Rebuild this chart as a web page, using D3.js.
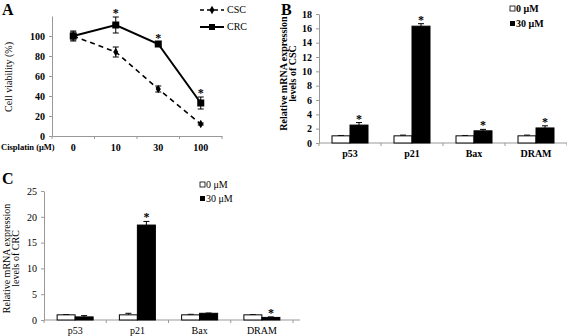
<!DOCTYPE html>
<html>
<head>
<meta charset="utf-8">
<script src="https://cdn.jsdelivr.net/npm/d3@7"></script>
<style>
  body { margin: 0; background: #fff; }
  svg, svg text { font-family: "Liberation Serif", "Times New Roman", serif; }
  .axis path, .axis line { stroke: #999; }
  .axis text { font-family: "Liberation Serif", "Times New Roman", serif; font-weight: bold; font-size: 10px; fill: #000; }
</style>
</head>
<body>
<svg id="fig" width="567" height="336"></svg>
<script>
// ---- data ----
var doses = ["0", "10", "30", "100"];
var crcViability = [100, 111, 92, 33];
var crcErr = [5, 8, 2, 6];
var cscViability = [100, 84, 47, 12];
var cscErr = [4, 5, 3, 1];
var crcStars = [false, true, true, true];

var genes = ["p53", "p21", "Bax", "DRAM"];
var cscCtrl = [1.0, 1.0, 1.0, 1.0];
var cscCtrlErr = [0.05, 0.1, 0.05, 0.1];
var cscTreat = [2.5, 16.3, 1.7, 2.1];
var cscTreatErr = [0.35, 0.35, 0.2, 0.3];
var cscStars = [true, true, true, true];

var crcCtrl = [1.0, 1.0, 1.0, 1.0];
var crcCtrlErr = [0.05, 0.3, 0.1, 0.05];
var crcTreat = [0.6, 18.4, 1.3, 0.5];
var crcTreatErr = [0.25, 0.7, 0.05, 0.1];
var crcGeneStars = [false, true, false, true];

var svg = d3.select("#fig");

// ---------------- Panel A ----------------
var gA = svg.append("g");
gA.append("text").attr("x", 2).attr("y", 15)
    .style("font-size", "16px").style("font-weight", "bold").text("A");

var xA = d3.scaleBand().domain(doses).range([52, 222]);
var yA = d3.scaleLinear().domain([0, 120]).range([136, 16]);

gA.append("g").attr("class", "axis")
    .attr("transform", "translate(52,0)")
    .call(d3.axisLeft(yA).tickValues([0, 20, 40, 60, 80, 100]).tickSize(3).tickPadding(4).tickSizeOuter(0));

var xAxisA = gA.append("g").attr("class", "axis")
    .attr("transform", "translate(0,136)")
    .call(d3.axisBottom(xA).tickSize(0).tickPadding(8).tickSizeOuter(0));
// ticks at band boundaries
xAxisA.selectAll(".bound").data(d3.range(doses.length + 1)).enter()
    .append("line").attr("class", "bound")
    .attr("x1", i => 52 + i * xA.step()).attr("x2", i => 52 + i * xA.step())
    .attr("y1", 0).attr("y2", 3);

gA.append("text").attr("transform", "translate(12,77) rotate(-90)")
    .attr("text-anchor", "middle").style("font-size", "10px").text("Cell viability (%)");
gA.append("text").attr("x", 1).attr("y", 150)
    .style("font-size", "8.5px").style("font-weight", "bold").text("Cisplatin (\u03bcM)");

var cx = d => xA(d) + xA.bandwidth() / 2;
var lineA = d3.line().x((v, i) => cx(doses[i])).y(v => yA(v));

gA.append("path").attr("d", lineA(cscViability)).attr("fill", "none")
    .attr("stroke", "#000").attr("stroke-width", 1.6).attr("stroke-dasharray", "5,4");
gA.append("path").attr("d", lineA(crcViability)).attr("fill", "none")
    .attr("stroke", "#000").attr("stroke-width", 2);

function errBars(g, vals, errs, xf, yf, cap) {
    vals.forEach(function(v, i) {
        var x = xf(i);
        g.append("line").attr("x1", x).attr("x2", x)
            .attr("y1", yf(v - errs[i])).attr("y2", yf(v + errs[i])).attr("stroke", "#000");
        [v - errs[i], v + errs[i]].forEach(function(e) {
            g.append("line").attr("x1", x - cap).attr("x2", x + cap)
                .attr("y1", yf(e)).attr("y2", yf(e)).attr("stroke", "#000");
        });
    });
}
errBars(gA, cscViability, cscErr, i => cx(doses[i]), yA, 3);
errBars(gA, crcViability, crcErr, i => cx(doses[i]), yA, 3);

var diamond = d3.symbol().type(d3.symbolDiamond).size(22);
gA.selectAll(".csc").data(cscViability).enter().append("path")
    .attr("transform", (v, i) => "translate(" + cx(doses[i]) + "," + yA(v) + ")")
    .attr("d", diamond).attr("fill", "#000");
gA.selectAll(".crc").data(crcViability).enter().append("rect")
    .attr("x", (v, i) => cx(doses[i]) - 3.5).attr("y", v => yA(v) - 3.5)
    .attr("width", 7).attr("height", 7).attr("fill", "#000");

var starsA = doses.map((d, i) => ({ dose: d, top: crcViability[i] + crcErr[i], on: crcStars[i] }))
    .filter(s => s.on);
gA.selectAll(".starA").data(starsA).enter()
    .append("text").attr("class", "starA").attr("text-anchor", "middle")
    .attr("x", s => cx(s.dose))
    .attr("y", s => yA(s.top))
    .style("font-size", "12px").style("font-weight", "bold").text("*");

// legend A
var legA = gA.append("g");
legA.append("line").attr("x1", 200).attr("x2", 224).attr("y1", 10).attr("y2", 10)
    .attr("stroke", "#000").attr("stroke-width", 1.5).attr("stroke-dasharray", "4,3");
legA.append("path").attr("transform", "translate(212,10)").attr("d", diamond).attr("fill", "#000");
legA.append("text").attr("x", 227).attr("y", 13).style("font-size", "10px").text("CSC");
legA.append("line").attr("x1", 200).attr("x2", 224).attr("y1", 27).attr("y2", 27)
    .attr("stroke", "#000").attr("stroke-width", 2);
legA.append("rect").attr("x", 209).attr("y", 24).attr("width", 6).attr("height", 6).attr("fill", "#000");
legA.append("text").attr("x", 227).attr("y", 30).style("font-size", "10px").text("CRC");

// ---------------- Bar panels ----------------
function barPanel(opt) {
    var g = svg.append("g");
    g.append("text").attr("x", opt.letterX).attr("y", opt.letterY)
        .style("font-size", "16px").style("font-weight", "bold").text(opt.letter);

    var x = d3.scaleBand().domain(genes).range(opt.xRange);
    var y = d3.scaleLinear().domain([0, opt.yMax]).range(opt.yRange);
    var barW = 18;

    var ya = g.append("g").attr("class", "axis")
        .attr("transform", "translate(" + opt.xRange[0] + ",0)")
        .call(d3.axisLeft(y).tickValues(d3.range(0, opt.yMax + 0.1, opt.yStep))
            .tickSize(3).tickPadding(4).tickSizeOuter(0));
    if (opt.thin) ya.selectAll("text").style("font-weight", "normal");

    var xa = g.append("g").attr("class", "axis")
        .attr("transform", "translate(0," + opt.yRange[0] + ")")
        .call(d3.axisBottom(x).tickSize(0).tickPadding(7).tickSizeOuter(0));
    xa.select(".domain").attr("d", "M" + opt.xRange[0] + ",0H" + opt.axisEnd);
    if (opt.thin) xa.selectAll("text").style("font-weight", "normal");
    xa.selectAll(".bound").data(d3.range(genes.length + 1)).enter()
        .append("line").attr("class", "bound")
        .attr("x1", i => opt.xRange[0] + i * x.step()).attr("x2", i => opt.xRange[0] + i * x.step())
        .attr("y1", 0).attr("y2", 3);

    var mid = (opt.yRange[0] + opt.yRange[1]) / 2 + opt.labelShift;
    var fw = opt.thin ? "normal" : "bold";
    g.append("text").attr("transform", "translate(" + opt.labelX + "," + mid + ") rotate(-90)")
        .attr("text-anchor", "middle").style("font-size", "10px").style("font-weight", fw)
        .text("Relative mRNA expression");
    g.append("text").attr("transform", "translate(" + (opt.labelX + 9) + "," + mid + ") rotate(-90)")
        .attr("text-anchor", "middle").style("font-size", "10px").style("font-weight", fw)
        .text(opt.levels);

    var gc = d => x(d) + x.bandwidth() / 2;
    // error bars (upper half only)
    function upErr(vals, errs, off) {
        vals.forEach(function(v, i) {
            var xx = gc(genes[i]) + off;
            g.append("line").attr("x1", xx).attr("x2", xx)
                .attr("y1", y(v)).attr("y2", y(v + errs[i])).attr("stroke", "#000");
            g.append("line").attr("x1", xx - 3).attr("x2", xx + 3)
                .attr("y1", y(v + errs[i])).attr("y2", y(v + errs[i])).attr("stroke", "#000");
        });
    }
    upErr(opt.ctrl, opt.ctrlErr, -barW / 2);
    upErr(opt.treat, opt.treatErr, barW / 2);

    g.selectAll(".ctrl").data(opt.ctrl).enter().append("rect").attr("class", "ctrl")
        .attr("x", (v, i) => gc(genes[i]) - barW).attr("y", v => y(v))
        .attr("width", barW).attr("height", v => opt.yRange[0] - y(v))
        .attr("fill", "#fff").attr("stroke", "#000").attr("stroke-width", 1);
    g.selectAll(".treat").data(opt.treat).enter().append("rect").attr("class", "treat")
        .attr("x", (v, i) => gc(genes[i])).attr("y", v => y(v))
        .attr("width", barW).attr("height", v => opt.yRange[0] - y(v))
        .attr("fill", "#000").attr("stroke", "#000").attr("stroke-width", 1);

    var stars = genes.map((gn, i) => ({ gene: gn, top: opt.treat[i] + opt.treatErr[i], on: opt.stars[i] }))
        .filter(s => s.on);
    g.selectAll(".star").data(stars).enter()
        .append("text").attr("class", "star").attr("text-anchor", "middle")
        .attr("x", s => gc(s.gene) + barW / 2)
        .attr("y", s => y(s.top))
        .style("font-size", "12px").style("font-weight", "bold").text("*");

    // legend
    var lg = g.append("g").attr("transform", "translate(" + opt.legX + "," + opt.legY + ")");
    lg.append("rect").attr("x", 0).attr("y", -4).attr("width", 5).attr("height", 5)
        .attr("fill", "#fff").attr("stroke", "#000").attr("stroke-width", 0.8);
    lg.append("text").attr("x", 6).attr("y", 1.5).style("font-size", "10px")
        .style("font-weight", fw).text("0 \u03bcM");
    lg.append("rect").attr("x", 0).attr("y", opt.legGap - 4).attr("width", 5).attr("height", 5).attr("fill", "#000");
    lg.append("text").attr("x", 6).attr("y", opt.legGap + 1.5).style("font-size", "10px")
        .style("font-weight", fw).text("30 \u03bcM");
}

barPanel({
    letter: "B", letterX: 281, letterY: 15,
    xRange: [319, 567], axisEnd: 567, yMax: 18, yStep: 2, yRange: [143, 14],
    labelX: 287, labelShift: -5, levels: "levels of CSC",
    ctrl: cscCtrl, ctrlErr: cscCtrlErr, treat: cscTreat, treatErr: cscTreatErr, stars: cscStars,
    legX: 510, legY: 10, legGap: 15, thin: false
});

barPanel({
    letter: "C", letterX: 2, letterY: 184,
    xRange: [44, 293], axisEnd: 300, yMax: 25, yStep: 5, yRange: [320, 191],
    labelX: 10, labelShift: 3, levels: "levels of CRC",
    ctrl: crcCtrl, ctrlErr: crcCtrlErr, treat: crcTreat, treatErr: crcTreatErr, stars: crcGeneStars,
    legX: 200, legY: 186, legGap: 14, thin: true
});
</script>
</body>
</html>
